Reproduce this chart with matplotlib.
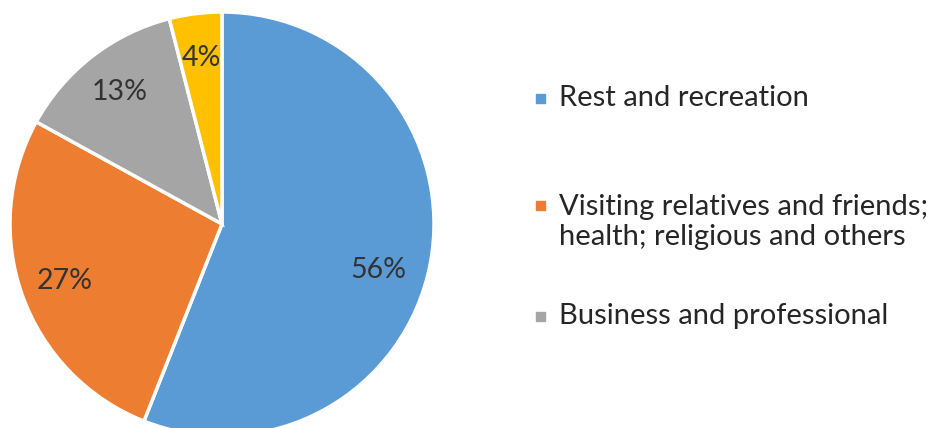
import matplotlib
matplotlib.use("Agg")
import matplotlib.pyplot as plt
from matplotlib.patches import Rectangle

# Purpose of visit shares (%)
categories = ["Rest and recreation",
              "Visiting relatives and friends;\nhealth; religious and others",
              "Business and professional",
              "Other"]
shares = [56, 27, 13, 4]
colors = ["#5B9BD5", "#ED7D31", "#A5A5A5", "#FFC000"]

plt.rcParams['font.family'] = ['Lato', 'DejaVu Sans']

W, H = 936, 428
fig = plt.figure(figsize=(W / 100, H / 100), dpi=100)

# pie centre and radius in pixels
cx, cy, r = 222, 224, 212
ax = fig.add_axes([(cx - r) / W, (H - cy - r) / H, 2 * r / W, 2 * r / H])

wedges, texts, autotexts = ax.pie(
    shares, colors=colors, startangle=90, counterclock=False,
    autopct=lambda p: f"{p:.0f}%", pctdistance=0.79,
    wedgeprops=dict(edgecolor="white", linewidth=2.5),
    textprops=dict(fontsize=20.5, color="#333333"))
ax.set_xlim(-1, 1)
ax.set_ylim(-1, 1)
for w in wedges:
    w.set_clip_on(False)
# nudge the big label a little lower, as Excel's best fit does
x0, y0 = autotexts[0].get_position()
autotexts[0].set_position((x0 - 0.04, y0 - 0.07))

# legend, drawn by hand to keep Excel's uneven spacing
legend_y = [98, 222, 316]
for name, col, y in zip(categories[:3], colors[:3], legend_y):
    first_line_y = y if "\n" not in name else y - 17
    fig.patches.append(Rectangle((536 / W, 1 - (first_line_y + 5) / H), 9 / W, 9 / H,
                                 transform=fig.transFigure, color=col, figure=fig))
    fig.text(559 / W, 1 - y / H, name, fontsize=21, color="#262626",
             va="center", ha="left", linespacing=1.2)

fig.savefig("out.png", dpi=100, facecolor="white")
